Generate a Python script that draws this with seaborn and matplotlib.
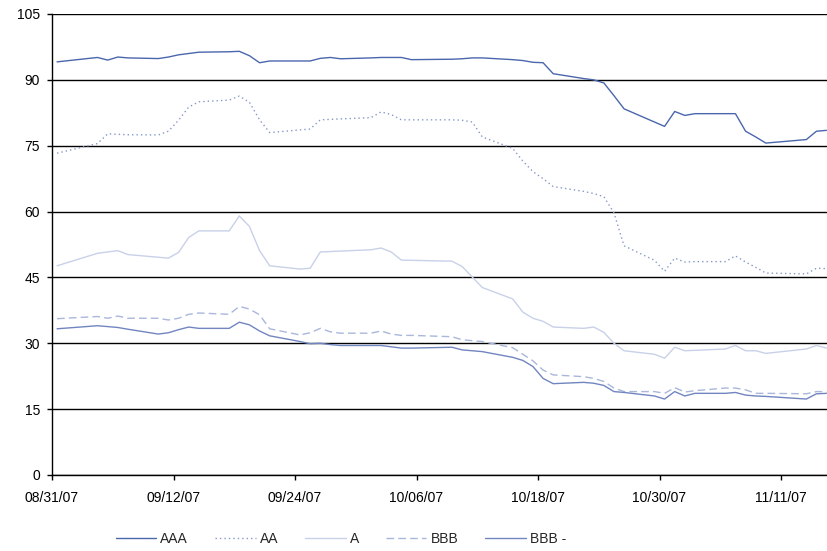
import matplotlib
matplotlib.use("Agg")
import matplotlib.pyplot as plt
import matplotlib.dates as mdates
import seaborn as sns
import pandas as pd

# business days (bond market holidays removed)
dates = pd.bdate_range("2007-08-31", "2007-11-15").drop(
    pd.to_datetime(["2007-09-03", "2007-10-08", "2007-11-12"]))

AAA = [94.1, 95.1, 94.5, 95.2, 95.0, 94.85, 95.2, 95.7, 96.0, 96.3,
       96.4, 96.5, 95.5, 93.9, 94.3, 94.3, 94.3, 94.9, 95.1, 94.8,
       95.0, 95.1, 95.1, 95.1, 94.6, 94.7, 94.8, 95.0, 95.0, 94.6,
       94.4, 94.0, 93.9, 91.4, 90.3, 90.0, 89.3, 86.4, 83.4, 80.4,
       79.4, 82.8, 81.9, 82.3, 82.3, 82.3, 78.3, 77.0, 75.6, 76.4,
       78.3, 78.5]
AA = [73.3, 75.5, 77.7, 77.6, 77.5, 77.45, 78.3, 80.8, 83.8, 85.0,
      85.4, 86.3, 84.9, 80.9, 78.0, 78.6, 78.8, 80.9, 81.0, 81.1,
      81.4, 82.7, 82.1, 80.9, 80.9, 80.9, 80.8, 80.4, 77.0, 74.4,
      71.5, 69.1, 67.5, 65.7, 64.6, 64.1, 63.4, 59.7, 52.2, 48.9,
      46.4, 49.4, 48.5, 48.6, 48.6, 49.9, 48.5, 47.3, 46.0, 45.8,
      47.1, 47.0]
A = [47.65, 50.5, 50.8, 51.1, 50.2, 49.6, 49.4, 50.7, 54.1, 55.6,
     55.6, 59.0, 56.6, 51.1, 47.65, 46.9, 47.1, 50.8, 50.9, 51.0,
     51.3, 51.7, 50.8, 48.95, 48.9, 48.7, 47.5, 45.1, 42.7, 40.1,
     37.1, 35.7, 35.0, 33.7, 33.4, 33.7, 32.5, 30.0, 28.3, 27.5,
     26.6, 29.1, 28.3, 28.4, 28.7, 29.5, 28.3, 28.3, 27.7, 28.7,
     29.5, 28.9]
BBB = [35.6, 36.1, 35.7, 36.2, 35.7, 35.7, 35.3, 35.7, 36.6, 36.9,
       36.6, 38.4, 37.8, 36.5, 33.3, 31.9, 32.4, 33.4, 32.6, 32.3,
       32.3, 32.8, 32.1, 31.8, 31.8, 31.5, 30.8, 30.6, 30.4, 29.0,
       27.5, 26.0, 23.9, 22.8, 22.4, 22.0, 21.3, 19.8, 19.0, 19.0,
       18.6, 19.9, 18.9, 19.2, 19.8, 19.8, 19.4, 18.6, 18.6, 18.5,
       19.0, 19.0]
BBB_minus = [33.3, 34.0, 33.8, 33.6, 33.2, 32.1, 32.4, 33.1, 33.7, 33.4,
             33.4, 34.8, 34.2, 32.8, 31.7, 30.4, 29.9, 30.0, 29.7, 29.5,
             29.5, 29.5, 29.2, 28.9, 28.9, 29.1, 28.5, 28.3, 28.1, 26.8,
             26.1, 24.7, 22.0, 20.8, 21.1, 20.9, 20.4, 19.0, 18.8, 18.0,
             17.3, 19.0, 18.0, 18.6, 18.6, 18.8, 18.2, 18.0, 17.9, 17.3,
             18.5, 18.6]

labels = ["AAA", "AA", "A", "BBB", "BBB -"]
series = [AAA, AA, A, BBB, BBB_minus]
colors = ["#4A66AC", "#8698C9", "#C9D1E8", "#A9B7DB", "#7185C0"]
styles = ["-", (0, (1, 2.2)), "-", (0, (5.5, 3)), "-"]

tick_dates = pd.date_range("2007-08-31", periods=7, freq="12D")
yticks = [0, 15, 30, 45, 60, 75, 90, 105]

sns.set_style("white")
plt.rcParams["font.family"] = ["Liberation Sans", "DejaVu Sans"]

fig = plt.figure(figsize=(8.28, 5.51), dpi=100)
ax = fig.add_axes([52 / 828, 1 - 475 / 551, 1 - 52 / 828, (475 - 14) / 551])

xpos = dates + pd.Timedelta(hours=12)
for lab, vals, c, ls in zip(labels, series, colors, styles):
    sns.lineplot(x=xpos, y=vals, ax=ax, color=c, linewidth=1.0,
                 linestyle=ls, label=lab, legend=False)

ax.set_ylim(0, 105)
ax.set_yticks(yticks)
ax.set_xlim(pd.Timestamp("2007-08-31"), pd.Timestamp("2007-08-31") + pd.Timedelta(days=76.64))
ax.set_xticks(tick_dates)
ax.xaxis.set_major_formatter(mdates.DateFormatter("%m/%d/%y"))
ax.yaxis.grid(True, color="black", linewidth=1.0)
ax.set_axisbelow(True)
for s in ["top", "right"]:
    ax.spines[s].set_visible(False)
for s in ["left", "bottom"]:
    ax.spines[s].set_color("black")
    ax.spines[s].set_linewidth(1.0)
ax.tick_params(axis="both", which="major", direction="out", length=3.6,
               width=1, color="black", labelsize=10, labelcolor="black",
               left=True, bottom=True)
ax.tick_params(axis="y", pad=5)
ax.tick_params(axis="x", pad=8)
ax.set_xlabel("")
ax.set_ylabel("")

handles, labs = ax.get_legend_handles_labels()
fig.legend(handles, labs, loc="center left", bbox_to_anchor=(116 / 828, 12 / 551),
           ncol=5, frameon=False, fontsize=10, handlelength=2.9,
           handletextpad=0.3, columnspacing=1.95, borderpad=0, borderaxespad=0)

fig.savefig("out.png", dpi=100)
